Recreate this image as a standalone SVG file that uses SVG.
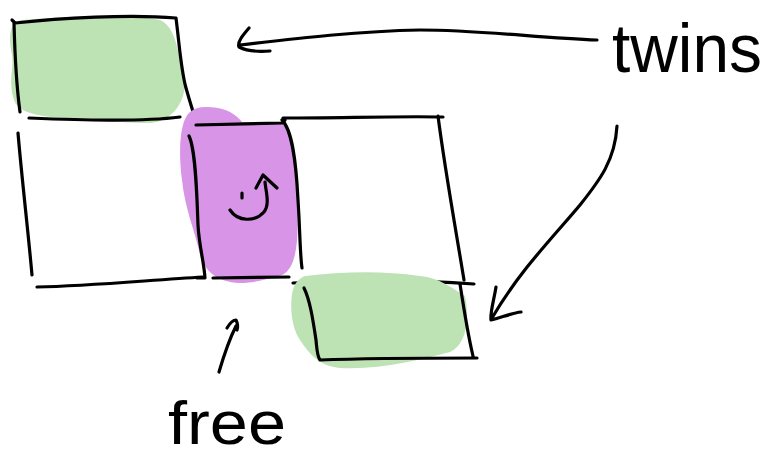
<svg xmlns="http://www.w3.org/2000/svg" width="774" height="458" viewBox="0 0 774 458">
<style>
.ink{fill:none;stroke:#000;stroke-width:3.2;stroke-linecap:round;stroke-linejoin:round}
.green{fill:#bde2b4}
.purple{fill:#d894e6}
.hand{font-family:"Liberation Sans",Arial,sans-serif;fill:#000}
</style>
<rect width="774" height="458" fill="#fff"/>
<g id="twin-top">
<path class="green" d="M22,20 C70,16 130,14 160,20 C178,28 178,58 184,78 C188,100 172,122 150,123 C110,123 95,118 80,118 C60,118 20,118 14,100 C8,80 14,70 12,55 C8,35 10,22 22,20 Z"/>
<path class="ink" d="M12,20 L15,23 C60,18 130,14 176,18 M176,18 C180,50 181,70 186,88 C190,102 193,112 197,124 M14,23 C15,60 17,90 20,112 M29,118 C80,120 140,122 180,117"/>
</g>
<g id="left-square">
<path class="ink" d="M18,133 C22,180 28,230 32,275 M37,287 C90,286 150,280 203,277"/>
</g>
<g id="free-cell">
<path class="purple" d="M205,107 C225,106 237,115 242,122 L282,122 C294,135 297,170 297,200 C299,240 297,268 282,275 C262,280 255,283 240,283 C215,282 205,270 200,255 C195,230 185,210 182,180 C178,150 180,120 190,112 C195,108 200,107 205,107 Z"/>
<path class="ink" d="M196,125 L282,123 L285,120 M189,136 C196,150 197,200 198,225 C199,245 204,262 205,278 L197,278 M213,278 L289,277"/>
<path class="ink" d="M230,210 C238,222 255,222 264,212 C270,204 266,192 265,182 M256,188 L263,175 L277,188 M242,193 L242,198"/>
</g>
<g id="right-square">
<path class="ink" d="M283,118 C340,118 400,116 443,117 M282,120 C292,130 296,160 298,200 C300,230 300,255 302,268 M438,116 C445,170 455,225 464,280 M293,283 C360,280 420,280 474,284"/>
</g>
<g id="twin-bottom">
<path class="green" d="M305,276 C340,272 380,270 420,276 C440,278 450,287 465,296 C470,320 466,345 450,352 C420,360 380,370 340,368 C320,366 310,355 300,340 C290,325 290,300 293,290 C295,282 300,278 305,276 Z"/>
<path class="ink" d="M304,288 C310,300 313,320 316,340 C317,350 317,356 320,360 C370,358 430,358 477,358 M460,284 C464,310 468,335 473,356"/>
</g>
<g id="connectors">
<path class="ink" d="M597,40 C540,38 480,30 420,30 C360,31 300,38 240,45 M249,28 C243,35 237,42 239,47 C247,51 258,52 270,51"/>
<path class="ink" d="M617,126 C615,160 600,180 580,205 C555,235 520,270 492,318 M496,287 C494,300 490,312 491,320 C500,318 512,313 521,312"/>
<path class="ink" d="M219,372 C224,355 230,338 236,326 M227,328 C230,323 233,320 236,320 C238,324 238,327 237,330"/>
</g>
<g id="labels">
<text class="hand" x="612" y="72" font-size="68" textLength="150" lengthAdjust="spacingAndGlyphs">twins</text>
<text class="hand" x="168" y="444" font-size="62" textLength="118" lengthAdjust="spacingAndGlyphs">free</text>
</g>
</svg>
